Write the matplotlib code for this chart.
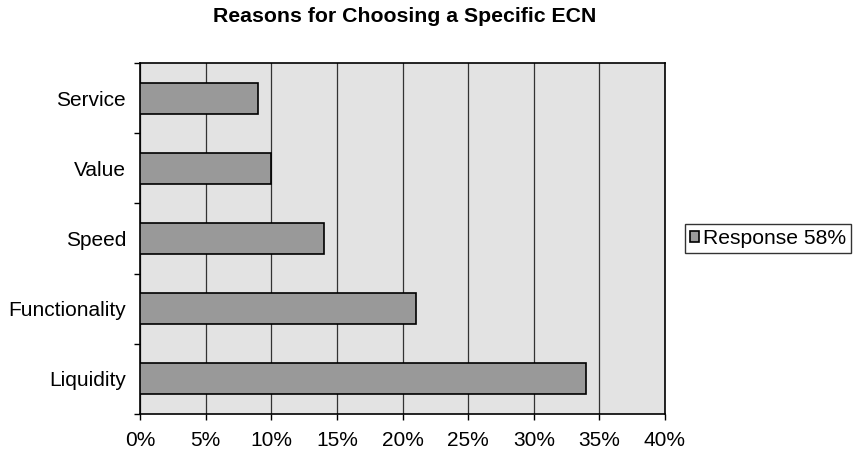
import matplotlib.pyplot as plt
from matplotlib.ticker import MultipleLocator, FuncFormatter
import numpy as np

plt.rcParams['font.family'] = ['Liberation Sans', 'DejaVu Sans']

reasons = ['Liquidity', 'Functionality', 'Speed', 'Value', 'Service']
response = [34, 21, 14, 10, 9]  # percent of respondents
series_name = 'Response 58%'

fig = plt.figure(figsize=(8.56, 4.53), dpi=100)
ax = fig.add_axes([140 / 856, 1 - 414 / 453, 525 / 856, 351 / 453])
ax.set_facecolor('#e3e3e3')

y = np.arange(len(reasons))
ax.barh(y, response, height=0.44, color='#999999', edgecolor='black',
        linewidth=1.2, label=series_name, zorder=3)

ax.set_xlim(0, 40)
ax.set_ylim(-0.5, len(reasons) - 0.5)
ax.xaxis.set_major_locator(MultipleLocator(5))
ax.xaxis.set_major_formatter(FuncFormatter(lambda v, p: f'{v:.0f}%'))
ax.grid(axis='x', color='#333333', linewidth=0.9, zorder=1)

# category labels centred on bars, tick marks between categories
ax.set_yticks(y)
ax.set_yticklabels(reasons)
ax.tick_params(axis='y', length=0, labelsize=15, pad=10)
ax.set_yticks(np.arange(-0.5, len(reasons)), minor=True)
ax.tick_params(axis='y', which='minor', length=4.5, width=1.0, direction='out')
ax.tick_params(axis='x', length=4.5, width=1.0, labelsize=15, pad=8)

for s in ax.spines.values():
    s.set_color('black')
    s.set_linewidth(1.2)

fig.suptitle('Reasons for Choosing a Specific ECN', fontsize=15.3, weight='bold',
             x=405 / 856, y=1 - 17 / 453, va='center')

leg = fig.legend(loc='center left', bbox_to_anchor=(685 / 856, 1 - 238.5 / 453),
                 frameon=True, fancybox=False, edgecolor='black', fontsize=15.2,
                 handlelength=0.4, handleheight=0.4, handletextpad=0.2,
                 borderpad=0.25, borderaxespad=0)
leg.get_frame().set_linewidth(1.0)

fig.savefig('out.png', dpi=100)
